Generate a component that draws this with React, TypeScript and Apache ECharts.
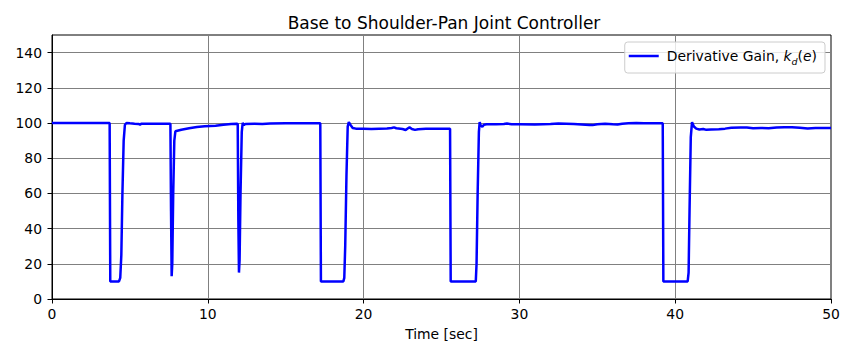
import React, { useEffect, useRef } from "react";
import * as echarts from "echarts";

const timeSec: number[] = [
  0, 3.70, 3.74, 4.30, 4.38, 4.45, 4.52, 4.60, 4.68, 4.78, 5.0, 5.3, 5.55, 5.65, 5.75, 6.5, 7.3,
  7.60, 7.64, 7.68, 7.72, 7.78, 7.85, 7.92, 8.3, 8.8, 9.3, 9.8, 10.5, 11.0, 11.5, 11.85,
  11.92, 11.96, 12.00, 12.04, 12.10, 12.18, 12.24, 12.32, 12.42, 13, 13.5, 14, 15, 16, 17.22,
  17.26, 18.70, 18.76, 18.82, 18.90, 18.98, 19.05, 19.15, 19.3, 19.5, 20, 20.5, 21, 21.5, 21.8,
  21.95, 22.1, 22.5, 22.7, 22.85, 22.95, 23.1, 23.3, 23.5, 24, 25, 25.55,
  25.59, 27.20, 27.25, 27.32, 27.40, 27.45, 27.52, 27.62, 27.72, 27.9, 28.5, 29, 29.2, 29.5, 30,
  31, 32, 32.5, 33, 33.5, 34, 34.5, 34.7, 35, 35.5, 36, 36.3, 36.6, 37, 37.5, 38, 39.2,
  39.24, 40.80, 40.86, 40.92, 41.0, 41.08, 41.2, 41.35, 41.55, 41.8, 42.0, 42.3, 42.8, 43.2,
  43.6, 44.2, 44.6, 45, 45.5, 46, 46.5, 47, 47.5, 48, 48.5, 49, 49.5, 50,
];

const derivativeGain: number[] = [
  100, 100, 10, 10, 12, 25, 60, 90, 99, 100, 99.8, 99.6, 99.5, 99.1, 99.6, 99.6, 99.6,
  99.6, 50, 13, 20, 60, 90, 95.3, 96.2, 97.0, 97.7, 98.2, 98.5, 99.0, 99.4, 99.6,
  99.5, 45, 15, 22, 60, 95, 100, 98.8, 99.5, 99.6, 99.4, 99.7, 99.8, 99.8, 99.8,
  10, 10, 12, 30, 70, 98, 100.5, 99, 97.2, 96.8, 96.8, 96.6, 96.8, 96.9, 97.2,
  97.5, 97, 96.6, 96.0, 97, 97.5, 96.6, 96.1, 96.5, 96.7, 96.8, 96.8,
  10, 10, 20, 60, 95, 100.5, 98.5, 97.8, 99, 99.3, 99.3, 99.4, 99.7, 99.3, 99.3,
  99.2, 99.4, 99.7, 99.6, 99.5, 99.2, 98.8, 98.8, 99.3, 99.6, 99.3, 99.2, 99.6, 99.8, 100, 99.8, 99.8,
  10, 10, 15, 50, 92, 100.5, 98, 96.8, 96.3, 96.6, 96.1, 96.3, 96.5, 96.8,
  97.3, 97.5, 97.4, 97.0, 97.2, 97.0, 97.5, 97.6, 97.6, 97.3, 96.9, 97.1, 97.2, 97.2,
];

const yTicks: number[] = [0, 20, 40, 60, 80, 100, 120, 140];
const xTicks: number[] = [0, 10, 20, 30, 40, 50];

const FONT = "DejaVu Sans";
const FS = 13.9;

export default function App() {
  const ref = useRef<HTMLDivElement>(null);
  useEffect(() => {
    if (!ref.current) return;
    const chart = echarts.init(ref.current, undefined, { renderer: "svg" });
    const data = timeSec.map((t, i) => [t, derivativeGain[i]]);
    chart.setOption({
      animation: false,
      backgroundColor: "#ffffff",
      textStyle: { fontFamily: FONT },
      title: {
        text: "Base to Shoulder-Pan Joint Controller",
        left: 439,
        textAlign: "center",
        top: 9,
        textStyle: { fontFamily: FONT, fontSize: 17, fontWeight: "normal", color: "#000" },
      },
      grid: {
        left: 52,
        right: 24,
        top: 35,
        bottom: 58,
        show: true,
        borderColor: "#000",
        borderWidth: 1,
        backgroundColor: "transparent",
      },
      legend: {
        right: 30,
        top: 42,
        orient: "vertical",
        itemWidth: 30,
        itemHeight: 14,
        itemGap: 6,
        padding: [7, 8, 7, 4],
        borderColor: "#cccccc",
        borderWidth: 1,
        borderRadius: 3,
        backgroundColor: "rgba(255,255,255,0.8)",
        formatter: () => "{n|Derivative Gain, }{i|k}{s|d}{n|(}{i|e}{n|)}",
        textStyle: {
          fontFamily: FONT,
          fontSize: FS,
          color: "#000",
          padding: [0, 0, 0, 3],
          rich: {
            n: { fontFamily: FONT, fontSize: FS, color: "#000" },
            i: { fontFamily: FONT, fontSize: FS, fontStyle: "italic", color: "#000" },
            s: { fontFamily: FONT, fontSize: 9.5, fontStyle: "italic", color: "#000", verticalAlign: "bottom", padding: [10, 0, 0, 0] },
          },
        },
        data: [{ name: "Derivative Gain", icon: "path://M0,0 L30,0 L30,2.5 L0,2.5 Z" }],
      },
      xAxis: {
        type: "value",
        min: 0,
        max: 50,
        interval: 10,
        name: "Time [sec]",
        nameLocation: "middle",
        nameGap: 28,
        nameTextStyle: { fontFamily: FONT, fontSize: FS, color: "#000" },
        axisLine: { show: true, lineStyle: { color: "#000", width: 1 } },
        axisTick: { show: true, length: 4.5, lineStyle: { color: "#000" } },
        axisLabel: { fontFamily: FONT, fontSize: FS, color: "#000", margin: 8, formatter: (v: number) => (xTicks.includes(v) ? String(v) : "") },
        splitLine: { show: true, lineStyle: { color: "#808080", width: 1 } },
      },
      yAxis: {
        type: "value",
        min: 0,
        max: 150,
        interval: 20,
        axisLine: { show: true, lineStyle: { color: "#000", width: 1 } },
        axisTick: { show: true, length: 4.5, lineStyle: { color: "#000" }, customValues: yTicks },
        axisLabel: { fontFamily: FONT, fontSize: FS, color: "#000", margin: 10, customValues: yTicks },
        splitLine: { show: true, lineStyle: { color: "#808080", width: 1 } },
      },
      series: [
        {
          name: "Derivative Gain",
          type: "line",
          data,
          showSymbol: false,
          symbol: "none",
          lineStyle: { color: "#0000ff", width: 2.5 },
          itemStyle: { color: "#0000ff" },
        },
      ],
    });
    return () => chart.dispose();
  }, []);
  return (
    <div
      ref={ref}
      style={{ position: "fixed", left: 0, top: 0, width: 855, height: 357 }}
    />
  );
}
